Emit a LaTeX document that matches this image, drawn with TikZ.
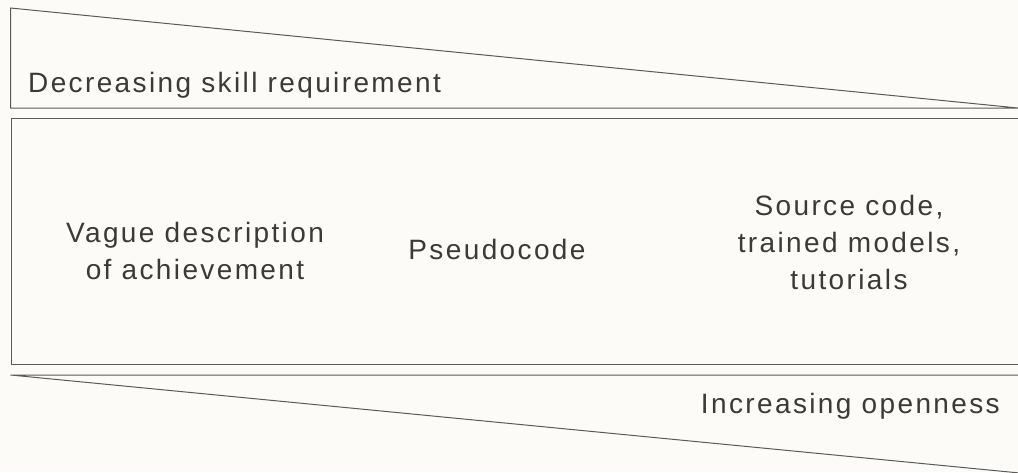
\documentclass[tikz,border=0pt]{standalone}
\usepackage{fontspec}
\setmainfont[LetterSpace=8.5]{Liberation Sans}
\definecolor{bg}{HTML}{FCFBF7}
\definecolor{ln}{HTML}{5A5A58}
\definecolor{txt}{HTML}{3A3A3A}
\begin{document}
\begin{tikzpicture}[x=1pt,y=-1pt,
  shapeline/.style={draw=ln,line width=1pt},
  lbl/.style={text=txt,inner sep=0pt,font=\fontsize{28}{37}\selectfont,align=center}]
\fill[bg] (0,0) rectangle (1018,472);
\useasboundingbox (0,0) rectangle (1018,472);
\clip (0,0) rectangle (1018,472);
% top wedge
\draw[shapeline] (10.5,8) -- (10.5,108) -- (1018,108) -- cycle;
% middle box
\draw[shapeline] (11.5,118) rectangle (1030,364);
% bottom wedge
\draw[shapeline] (1030,375) -- (10.5,375) -- (1030,474);
% labels
\node[lbl,anchor=base west] (dec) at (28,92) {Decreasing skill requirement};
\node[lbl,anchor=base] (vague) at (195,279) {Vague description\\of achievement};
\node[lbl,anchor=base] (pseudo) at (497,259) {Pseudocode};
\node[lbl,anchor=base] (src) at (849,289) {Source code,\\trained models,\\tutorials};
\node[lbl,anchor=base east] (inc) at (1000,413) {Increasing openness};
\end{tikzpicture}
\end{document}
